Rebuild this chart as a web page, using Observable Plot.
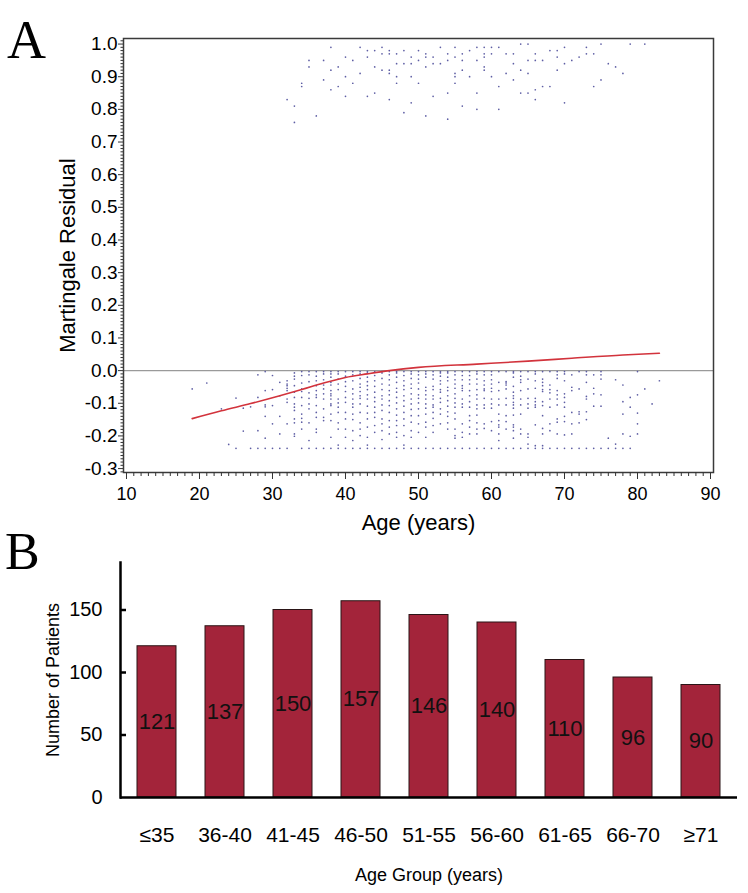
<!DOCTYPE html>
<html>
<head>
<meta charset="utf-8">
<script src="https://cdn.jsdelivr.net/npm/d3@7"></script>
<script src="https://cdn.jsdelivr.net/npm/@observablehq/plot@0.6"></script>
<style>
  body { margin: 0; background: #fff; }
  #wrap { position: relative; width: 748px; height: 893px; overflow: hidden; background: #fff;
          font-family: Arial, "Liberation Sans", sans-serif; }
  .panel { position: absolute; left: 0; z-index: 1; }
  .letter { position: absolute; z-index: 5; font-family: "Liberation Serif", "Times New Roman", serif; line-height: 1; color: #000; }
</style>
</head>
<body>
<div id="wrap">
  <div class="panel" id="pa" style="top:0px;"></div>
  <div class="panel" id="pb" style="top:540px;"></div>
  <div class="letter" style="left:7px;top:13px;font-size:54px;">A</div>
  <div class="letter" style="left:5px;top:526px;font-size:52px;">B</div>
</div>
<script>
// ---------- Panel A data: martingale residuals vs age ----------
// events cluster (residual near 1): [age, residual]
const upperPoints = [
  [38,0.99],[42,0.99],[43,0.98],[44,0.98],[45,0.99],[43,0.96],[45,0.97],[46,0.98],[46,0.97],[47,0.97],
  [48,0.98],[50,0.98],[51,0.97],[53,0.99],[54,0.97],[55,0.99],[56,0.97],[57,0.98],[58,0.99],[59,0.99],
  [60,0.99],[61,0.99],[59,0.97],[60,0.97],[64,1.00],[65,1.00],[66,0.97],[68,0.98],[69,0.98],[70,0.99],
  [73,0.99],[75,1.00],[79,1.00],[81,1.00],
  [35,0.95],[35,0.93],[37,0.95],[40,0.96],[41,0.95],[48,0.94],[49,0.96],[49,0.94],[50,0.95],[51,0.96],
  [52,0.96],[52,0.94],[53,0.94],[54,0.95],[55,0.96],[56,0.95],[58,0.95],[59,0.96],[62,0.97],[63,0.97],
  [63,0.94],[65,0.95],[66,0.95],[67,0.95],[69,0.96],[70,0.94],[71,0.95],[72,0.96],[73,0.97],[74,0.97],
  [38,0.92],[39,0.93],[44,0.93],[45,0.92],[46,0.92],[47,0.94],[46,0.91],[47,0.90],[47,0.88],[51,0.93],
  [55,0.91],[55,0.90],[56,0.92],[57,0.90],[59,0.93],[59,0.92],[60,0.90],[62,0.91],[63,0.89],[64,0.92],
  [65,0.91],[69,0.92],[76,0.94],[77,0.93],[78,0.91],[75,0.89],[74,0.87],
  [34,0.88],[34,0.87],[37,0.89],[38,0.86],[39,0.87],[40,0.90],[41,0.88],[42,0.91],[49,0.90],[50,0.88],
  [55,0.88],[61,0.87],[66,0.86],[67,0.87],[68,0.87],
  [32,0.83],[33,0.81],[36,0.78],[33,0.76],[40,0.84],[43,0.84],[44,0.85],[46,0.83],[49,0.82],[52,0.84],
  [54,0.85],[58,0.85],[64,0.85],[65,0.85],[66,0.83],[70,0.82],[48,0.79],[51,0.78],[54,0.77],[56,0.81],
  [58,0.80],[61,0.80]
];
// censored cluster (residual below 0): residuals for each age
const lowerAges = [19,21,23,24,25,26,27,28,29,30,31,32,33,34,35,36,37,38,39,40,41,42,43,44,45,46,47,48,49,50,
  51,52,53,54,55,56,57,58,59,60,61,62,63,64,65,66,67,68,69,70,71,72,73,74,75,76,77,78,79,80,81,82,83];
const lowerResiduals = [
  [-0.056],
  [-0.038],
  [-0.117],
  [-0.226],
  [-0.084,-0.238],
  [-0.115,-0.185],
  [-0.111,-0.238],
  [-0.013,-0.082,-0.184,-0.238],
  [-0.003,-0.061,-0.105,-0.111,-0.140,-0.207,-0.238],
  [-0.015,-0.058,-0.107,-0.163,-0.238],
  [-0.036,-0.077,-0.140,-0.194,-0.238],
  [-0.031,-0.041,-0.046,-0.054,-0.061,-0.087,-0.097,-0.163,-0.238],
  [-0.007,-0.017,-0.026,-0.046,-0.066,-0.082,-0.102,-0.112,-0.122,-0.148,-0.160,-0.194,-0.201],
  [-0.003,-0.015,-0.038,-0.056,-0.064,-0.082,-0.107,-0.133,-0.146,-0.158,-0.179,-0.238],
  [-0.003,-0.013,-0.034,-0.068,-0.085,-0.102,-0.117,-0.160,-0.214,-0.238],
  [-0.003,-0.017,-0.031,-0.046,-0.061,-0.074,-0.082,-0.107,-0.128,-0.143,-0.179,-0.189,-0.238],
  [-0.003,-0.010,-0.028,-0.044,-0.056,-0.071,-0.087,-0.117,-0.143,-0.153,-0.238],
  [-0.003,-0.010,-0.020,-0.036,-0.044,-0.061,-0.071,-0.077,-0.087,-0.102,-0.107,-0.133,-0.153,-0.204,-0.238],
  [-0.003,-0.010,-0.026,-0.041,-0.058,-0.087,-0.099,-0.112,-0.128,-0.160,-0.179,-0.228,-0.238],
  [-0.003,-0.017,-0.034,-0.048,-0.064,-0.082,-0.097,-0.128,-0.148,-0.179,-0.204,-0.238],
  [-0.003,-0.013,-0.031,-0.056,-0.071,-0.087,-0.102,-0.112,-0.133,-0.150,-0.184,-0.214,-0.238],
  [-0.003,-0.010,-0.024,-0.041,-0.051,-0.064,-0.077,-0.085,-0.102,-0.128,-0.160,-0.179,-0.199,-0.238],
  [-0.003,-0.007,-0.020,-0.034,-0.046,-0.058,-0.074,-0.087,-0.109,-0.130,-0.148,-0.173,-0.204,-0.228,-0.238],
  [-0.003,-0.015,-0.031,-0.048,-0.066,-0.082,-0.095,-0.112,-0.128,-0.143,-0.168,-0.189,-0.238],
  [-0.003,-0.007,-0.024,-0.041,-0.058,-0.077,-0.087,-0.105,-0.122,-0.148,-0.163,-0.184,-0.211,-0.238],
  [-0.003,-0.013,-0.028,-0.044,-0.061,-0.074,-0.092,-0.107,-0.128,-0.153,-0.173,-0.194,-0.238],
  [-0.003,-0.007,-0.020,-0.036,-0.054,-0.066,-0.082,-0.099,-0.117,-0.136,-0.153,-0.168,-0.189,-0.204,-0.238],
  [-0.003,-0.015,-0.031,-0.046,-0.058,-0.077,-0.092,-0.109,-0.128,-0.148,-0.168,-0.199,-0.228,-0.238],
  [-0.003,-0.010,-0.024,-0.041,-0.054,-0.071,-0.087,-0.102,-0.119,-0.138,-0.158,-0.184,-0.204,-0.238],
  [-0.003,-0.013,-0.026,-0.038,-0.056,-0.074,-0.085,-0.099,-0.117,-0.138,-0.163,-0.189,-0.238],
  [-0.003,-0.010,-0.020,-0.051,-0.061,-0.074,-0.087,-0.102,-0.115,-0.133,-0.158,-0.173,-0.204,-0.238],
  [-0.003,-0.013,-0.026,-0.048,-0.058,-0.077,-0.087,-0.105,-0.112,-0.128,-0.146,-0.168,-0.189,-0.238],
  [-0.003,-0.007,-0.017,-0.031,-0.041,-0.058,-0.066,-0.085,-0.097,-0.117,-0.133,-0.163,-0.238],
  [-0.003,-0.007,-0.020,-0.031,-0.051,-0.061,-0.077,-0.092,-0.109,-0.126,-0.140,-0.160,-0.179,-0.238],
  [-0.003,-0.013,-0.028,-0.041,-0.054,-0.071,-0.085,-0.099,-0.112,-0.130,-0.148,-0.179,-0.199,-0.207,-0.238],
  [-0.003,-0.015,-0.028,-0.046,-0.054,-0.061,-0.087,-0.102,-0.112,-0.163,-0.189,-0.204,-0.238],
  [-0.003,-0.015,-0.028,-0.041,-0.061,-0.077,-0.095,-0.112,-0.138,-0.153,-0.173,-0.194,-0.238],
  [-0.003,-0.010,-0.026,-0.041,-0.058,-0.074,-0.087,-0.105,-0.117,-0.136,-0.160,-0.179,-0.194,-0.238],
  [-0.003,-0.013,-0.031,-0.044,-0.056,-0.061,-0.085,-0.105,-0.115,-0.163,-0.177,-0.238],
  [-0.003,-0.013,-0.028,-0.041,-0.054,-0.064,-0.087,-0.102,-0.115,-0.156,-0.184,-0.238],
  [-0.003,-0.036,-0.061,-0.087,-0.105,-0.133,-0.153,-0.166,-0.173,-0.194,-0.214,-0.238],
  [-0.003,-0.034,-0.038,-0.044,-0.056,-0.085,-0.105,-0.138,-0.156,-0.179,-0.238],
  [-0.003,-0.007,-0.020,-0.048,-0.066,-0.077,-0.085,-0.097,-0.105,-0.115,-0.136,-0.166,-0.173,-0.184,-0.207,-0.238],
  [-0.003,-0.017,-0.028,-0.036,-0.061,-0.087,-0.105,-0.133,-0.179,-0.194,-0.238],
  [-0.003,-0.026,-0.056,-0.085,-0.102,-0.115,-0.194,-0.204,-0.225,-0.238],
  [-0.003,-0.010,-0.031,-0.054,-0.085,-0.095,-0.105,-0.112,-0.166,-0.230,-0.238],
  [-0.003,-0.026,-0.036,-0.046,-0.058,-0.064,-0.095,-0.107,-0.138,-0.177,-0.194,-0.230,-0.238],
  [-0.003,-0.044,-0.058,-0.068,-0.087,-0.112,-0.163,-0.184,-0.238],
  [-0.003,-0.013,-0.024,-0.061,-0.074,-0.087,-0.105,-0.148,-0.158,-0.194,-0.238],
  [-0.003,-0.010,-0.031,-0.071,-0.082,-0.097,-0.112,-0.140,-0.156,-0.197,-0.238],
  [-0.013,-0.051,-0.061,-0.128,-0.163,-0.194,-0.238],
  [-0.003,-0.056,-0.126,-0.133,-0.160,-0.238],
  [-0.003,-0.013,-0.036,-0.079,-0.087,-0.126,-0.150,-0.238],
  [-0.013,-0.054,-0.071,-0.109,-0.238],
  [-0.003,-0.013,-0.026,-0.074,-0.109,-0.238],
  [-0.207,-0.238],
  [-0.028,-0.225,-0.238],
  [-0.044,-0.095,-0.133,-0.194,-0.238],
  [-0.082,-0.112,-0.201,-0.238],
  [-0.003,-0.074,-0.130,-0.163,-0.194],
  [-0.056],
  [-0.102],
  [-0.031]
];
// LOESS smooth (red line)
const loessAge = [19, 23, 27, 31, 34, 37, 40, 43, 46, 50, 58, 65, 71, 78, 83];
const loessRes = [-0.147, -0.123, -0.101, -0.077, -0.058, -0.038, -0.021, -0.010, 0.0, 0.010, 0.020, 0.029, 0.038, 0.048, 0.053];

const xMajorA = [10, 20, 30, 40, 50, 60, 70, 80, 90];
const yMajorA = [-0.3, -0.2, -0.1, 0.0, 0.1, 0.2, 0.3, 0.4, 0.5, 0.6, 0.7, 0.8, 0.9, 1.0];

// ---------- Panel B data ----------
const ageGroups = ["≤35", "36-40", "41-45", "46-50", "51-55", "56-60", "61-65", "66-70", "≥71"];
const patientCounts = [121, 137, 150, 157, 146, 140, 110, 96, 90];
const yTicksB = [0, 50, 100, 150];

// ---------- build tables ----------
const points = [];
for (const [age, res] of upperPoints) points.push({age, res});
lowerAges.forEach((age, i) => { for (const res of lowerResiduals[i]) points.push({age, res}); });
const loess = loessAge.map((age, i) => ({age, res: loessRes[i]}));
const xMinorA = d3.range(10, 91, 1).filter(v => v % 10 !== 0);
const yMinorA = d3.range(-31, 102, 1).filter(v => v % 10 !== 0).map(v => v / 100);
const bars = ageGroups.map((group, i) => ({group, count: patientCounts[i]}));

const FONT = "Arial, 'Liberation Sans', sans-serif";
const NARROW = "'Liberation Sans Narrow', 'Arial Narrow', Arial, 'Liberation Sans', sans-serif";

const plotA = Plot.plot({
  width: 748, height: 540,
  marginLeft: 123, marginRight: 35, marginTop: 38, marginBottom: 68,
  x: {domain: [9.59, 90.41]},
  y: {domain: [-0.312, 1.017]},
  style: {fontFamily: FONT, background: "white", color: "black", overflow: "visible"},
  marks: [
    Plot.ruleY([0], {stroke: "#9a9a9a", strokeWidth: 1.2}),
    Plot.dot(points, {x: "age", y: "res", r: 0.85, fill: "#5e5ea4"}),
    Plot.line(loess, {x: "age", y: "res", stroke: "#d2333c", strokeWidth: 1.6, curve: "monotone-x"}),
    Plot.frame({stroke: "#3a3a3a", strokeWidth: 1.5}),
    Plot.axisY({ticks: yMinorA, tickSize: 2.5, tickFormat: () => "", label: null, stroke: "#333"}),
    Plot.axisY({ticks: yMajorA, tickSize: 5, tickPadding: 1, tickFormat: d => d.toFixed(1), fontSize: 19, label: null, stroke: "#333"}),
    Plot.axisX({ticks: xMinorA, tickSize: 4, tickFormat: () => "", label: null, stroke: "#333"}),
    Plot.axisX({ticks: xMajorA, tickSize: 7, tickPadding: 8, tickFormat: d => String(d), fontSize: 18, label: null, stroke: "#333"}),
    Plot.text(["Martingale Residual"], {text: d => d, frameAnchor: "left", dx: -56, rotate: -90, textAnchor: "middle", lineAnchor: "middle", fontSize: 22}),
    Plot.text(["Age (years)"], {text: d => d, frameAnchor: "bottom", dy: 50, textAnchor: "middle", lineAnchor: "middle", fontSize: 22})
  ]
});
document.getElementById("pa").appendChild(plotA);

const plotB = Plot.plot({
  width: 748, height: 353,
  marginLeft: 120, marginRight: 11, marginTop: 22, marginBottom: 96,
  x: {domain: ageGroups, paddingInner: 0.42, paddingOuter: 0.19},
  y: {domain: [0, 188]},
  style: {fontFamily: FONT, background: "white", color: "black", overflow: "visible"},
  marks: [
    Plot.barY(bars, {x: "group", y: "count", fill: "#a3243a", stroke: "#2a1416", strokeWidth: 1}),
    Plot.text(bars, {x: "group", y: d => d.count / 2, text: d => String(d.count), fontSize: 22, fontFamily: NARROW, fill: "#111"}),
    Plot.ruleY([0], {stroke: "black", strokeWidth: 2.5}),
    Plot.frame({anchor: "left", stroke: "black", strokeWidth: 2.5}),
    Plot.tickY(yTicksB.slice(1), {y: d => d, insetRight: 611, stroke: "black", strokeWidth: 2.5}),
    Plot.axisY({ticks: yTicksB, tickSize: 0, tickPadding: 18, fontSize: 20, fontFamily: NARROW, label: null}),
    Plot.axisX({tickSize: 0, tickPadding: 30, fontSize: 21, fontFamily: NARROW, label: null}),
    Plot.text(["Number of Patients"], {text: d => d, frameAnchor: "left", dx: -67, rotate: -90, textAnchor: "middle", lineAnchor: "middle", fontSize: 18}),
    Plot.text(["Age Group (years)"], {text: d => d, frameAnchor: "bottom", dy: 78, textAnchor: "middle", lineAnchor: "middle", fontSize: 18})
  ]
});
document.getElementById("pb").appendChild(plotB);
</script>
</body>
</html>
